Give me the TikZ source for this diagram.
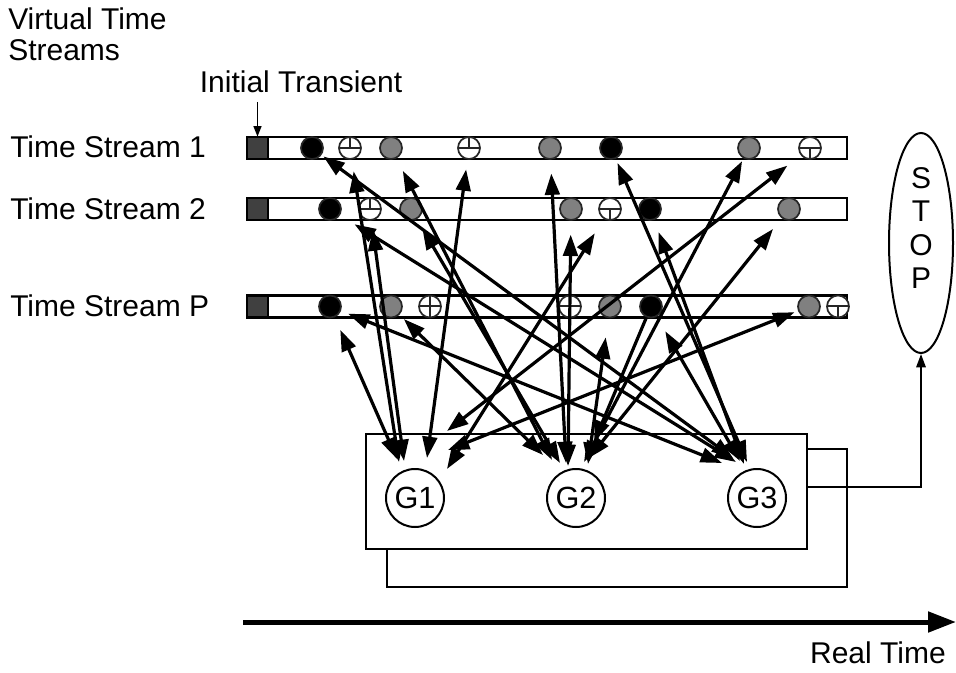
\documentclass[tikz,border=0pt]{standalone}
\usepackage{fontspec}
\setmainfont{Liberation Sans}
\usetikzlibrary{arrows.meta,shapes.geometric}
\newlength\pxu \setlength\pxu{0.75pt}
\definecolor{evgray}{RGB}{128,128,128}
\definecolor{sqgray}{RGB}{64,64,64}
\begin{document}
\begin{tikzpicture}[x=0.75pt,y=-0.75pt,
  lbl/.style={font=\fontsize{22.5}{25}\selectfont, inner sep=0},
  ev/.style={circle, draw=black!85, line width=1.3pt, minimum size=22\pxu, inner sep=0},
  evb/.style={ev, fill=black},
  evg/.style={ev, fill=evgray},
  evup/.style={ev, fill=white, path picture={
     \draw[line width=1.5pt] (path picture bounding box.west) -- (path picture bounding box.east);
     \draw[line width=1.5pt] (path picture bounding box.north) -- (path picture bounding box.center);}},
  evdn/.style={ev, fill=white, path picture={
     \draw[line width=1.5pt] (path picture bounding box.west) -- (path picture bounding box.east);
     \draw[line width=1.5pt] (path picture bounding box.south) -- (path picture bounding box.center);}},
  evx/.style={ev, fill=white, path picture={
     \draw[line width=1.5pt] (path picture bounding box.west) -- (path picture bounding box.east);
     \draw[line width=1.5pt] (path picture bounding box.north) -- (path picture bounding box.south);}},
  bar/.style={draw, line width=1.6pt, fill=white},
  sqbox/.style={draw, line width=1.2pt, fill=sqgray, minimum size=21\pxu, inner sep=0},
  gc/.style={circle, draw, line width=1.5pt, fill=white, minimum size=58\pxu, inner sep=0, font=\fontsize{23}{25}\selectfont},
  wire/.style={line width=1.5pt},
  msg/.style={line width=2.4pt, {Triangle[length=16pt,width=11pt]}-{Triangle[length=16pt,width=11pt]}},
  msgone/.style={line width=2.4pt, -{Triangle[length=16pt,width=11pt]}},
  st/.style={shorten >=#1\pxu}
]
\useasboundingbox (0,0) rectangle (956,673);

% labels
\node[lbl, anchor=base west] (vt1) at (8,30) {Virtual Time};
\node[lbl, anchor=base west] (vt2) at (8,61) {Streams};
\node[lbl, anchor=base] (itxt) at (301,93) {Initial Transient};
\node[lbl, anchor=base west] (ts1) at (10,158) {Time Stream 1};
\node[lbl, anchor=base west] (ts2) at (10,220) {Time Stream 2};
\node[lbl, anchor=base west] (tsp) at (10,317) {Time Stream P};

% stream bars
\draw[bar] (247,137) rectangle (847,159);
\draw[bar] (247,198) rectangle (847,220);
\draw[bar] (247,295.5) rectangle (847,317.5);
\node[sqbox] (sq1) at (257.5,148) {};
\node[sqbox] (sq2) at (257.5,209) {};
\node[sqbox] (sqp) at (257.5,306.5) {};

\coordinate (ita) at (257.5,102);
\draw[line width=1.2pt, -{Triangle[length=8pt,width=6pt]}] (ita) -- (sq1.north);

% stream 1 events
\node[evb]  (s1a) at (312,148) {};
\node[evup] (s1b) at (350,148) {};
\node[evg]  (s1c) at (391,148) {};
\node[evup] (s1d) at (469,148) {};
\node[evg]  (s1e) at (550,148) {};
\node[evb]  (s1f) at (611,148) {};
\node[evg]  (s1g) at (749,148) {};
\node[evdn] (s1h) at (810,148) {};
% stream 2 events
\node[evb]  (s2a) at (330,209) {};
\node[evup] (s2b) at (370,209) {};
\node[evg]  (s2c) at (411,209) {};
\node[evg]  (s2d) at (571,209) {};
\node[evdn] (s2e) at (610,209) {};
\node[evb]  (s2f) at (650,209) {};
\node[evg]  (s2g) at (789,209) {};
% stream P events
\node[evb]  (pa) at (330,306.5) {};
\node[evg]  (pb) at (391,306.5) {};
\node[evx]  (pc) at (430,306.5) {};
\node[evx]  (pd) at (570,306.5) {};
\node[evg]  (pe) at (610,306.5) {};
\node[evb]  (pf) at (651,306.5) {};
\node[evg]  (pg) at (809,306.5) {};
\node[evdn] (ph) at (838,306.5) {};

% box with G nodes
\node[draw, line width=1.5pt, minimum width=441\pxu, minimum height=115\pxu, inner sep=0] (gbox) at (586.5,491.5) {};
\node[gc] (G1) at (415,498) {G1};
\node[gc] (G2) at (576,498) {G2};
\node[gc] (G3) at (757,498) {G3};

% feedback loop
\coordinate (lpa) at (387,549);
\coordinate (lpb) at (807,449);
\draw[wire] (lpa) -- (387,587) -- (847,587) -- (847,449) -- (lpb);

% STOP
\node[draw, ellipse, line width=1.5pt, minimum width=64\pxu, minimum height=220\pxu, inner sep=0] (stop) at (921,243) {};
\node[lbl, align=center] (stoptxt) at (921,228) {S\\T\\O\\P};
\coordinate (sts) at (807,487);
\draw[wire, -{Triangle[length=10pt,width=7pt]}] (sts) -| (stop.south);

% real time axis
\coordinate (rt0) at (243,622);
\coordinate (rt1) at (956,622);
\draw[line width=3.75pt, -{Triangle[length=21pt,width=15pt]}] (rt0) -- (rt1);
\node[lbl, anchor=base east] (rtl) at (946,663) {Real Time};

% message end points near G nodes
\coordinate (e1) at (399,462);
\coordinate (e2) at (404,461);
\coordinate (e3) at (427,458);
\coordinate (e4) at (397,459);
\coordinate (e5) at (447,431);
\coordinate (e6) at (448,450);
\coordinate (e7) at (447,469);
\coordinate (e8) at (552,460);
\coordinate (e9) at (560,463);
\coordinate (e10) at (543,455);
\coordinate (e11) at (566,463);
\coordinate (e12) at (568,466);
\coordinate (e13) at (584,462);
\coordinate (e14) at (589,458);
\coordinate (e15) at (588,464);
\coordinate (e16) at (594,442);
\coordinate (e17) at (733,458);
\coordinate (e18) at (736,462);
\coordinate (e19) at (722,463);
\coordinate (e20) at (747,462);
\coordinate (e21) at (744,464);
\coordinate (e22) at (740,461);

% messages G1
\draw[msg, st=11.7] (e1) -- (s1b);
\draw[msg, st=8.7]  (e2) -- (s2b);
\draw[msg, st=9.7]  (e3) -- (s1d);
\draw[msg, st=13.7] (e4) -- (pa);
\draw[msg, st=16.8] (e5) -- (s1h);
\draw[msg, st=3.7]  (e6) -- (pg);
\draw[msg, st=16.8] (e7) -- (s2e);
% messages G2
\draw[msg, st=13.9] (e8) -- (s1c);
\draw[msg, st=10.6] (e9) -- (s2c);
\draw[msg, st=6.1]  (e10) -- (pb);
\draw[msg, st=13.7] (e11) -- (s1e);
\draw[msg, st=13.8] (e12) -- (s2d);
\draw[msg, st=3]    (e13) -- (s1g);
\draw[msg, st=13.7] (e14) -- (s2g);
\draw[msg, st=19.3] (e15) -- (pe);
\draw[msgone] (pf) -- (e16);
% messages G3
\draw[msg, st=2.3]  (e17) -- (s1a);
\draw[msg, st=17]   (e18) -- (s2a);
\draw[msg, st=7.6]  (e19) -- (pa);
\draw[msg, st=4.5]  (e20) -- (s1f);
\draw[msg, st=12.7] (e21) -- (s2f);
\draw[msg, st=16.7] (e22) -- (pf);
\end{tikzpicture}
\end{document}
